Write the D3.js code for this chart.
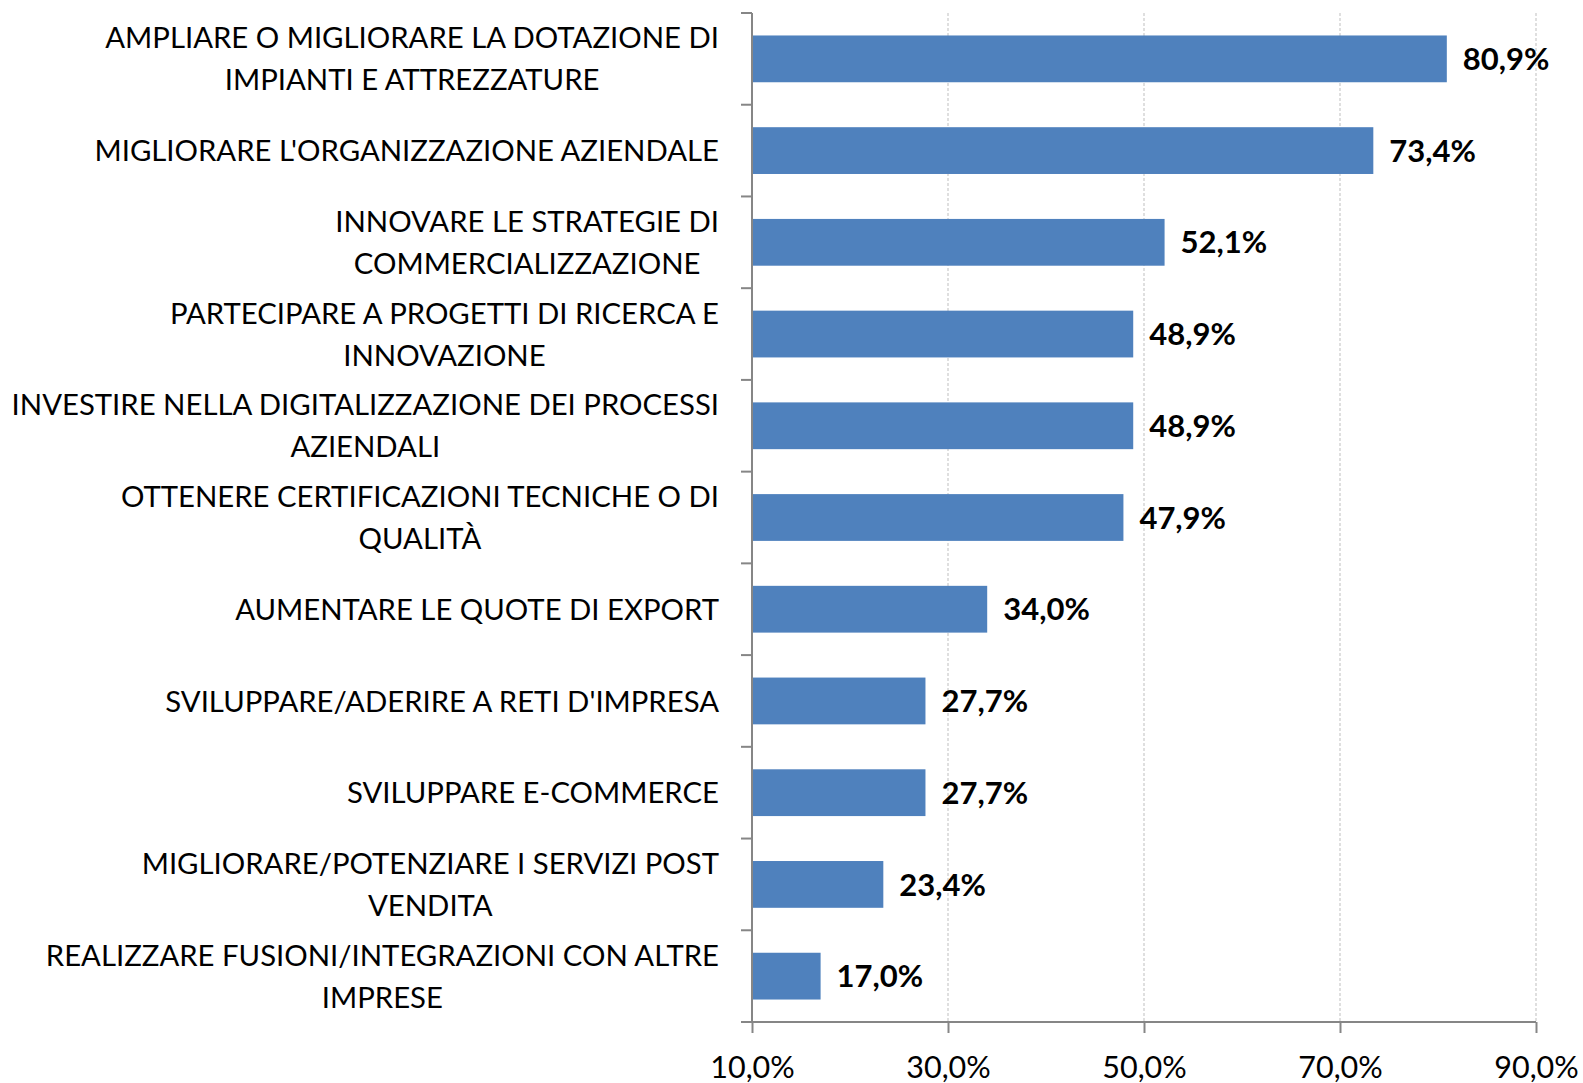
<!DOCTYPE html>
<html>
<head>
<meta charset="utf-8">
<script src="https://cdn.jsdelivr.net/npm/d3@7"></script>
<style>
  html, body { margin: 0; padding: 0; background: #fff; }
  svg { display: block; }
</style>
</head>
<body>
<svg id="chart" width="1583" height="1083"></svg>
<script>
// category labels, split into the lines they wrap onto
const categories = [
  ['AMPLIARE O MIGLIORARE LA DOTAZIONE DI', 'IMPIANTI E ATTREZZATURE'],
  ["MIGLIORARE L'ORGANIZZAZIONE AZIENDALE"],
  ['INNOVARE LE STRATEGIE DI', 'COMMERCIALIZZAZIONE'],
  ['PARTECIPARE A PROGETTI DI RICERCA E', 'INNOVAZIONE'],
  ['INVESTIRE NELLA DIGITALIZZAZIONE DEI PROCESSI', 'AZIENDALI'],
  ['OTTENERE CERTIFICAZIONI TECNICHE O DI', 'QUALITÀ'],
  ['AUMENTARE LE QUOTE DI EXPORT'],
  ["SVILUPPARE/ADERIRE A RETI D'IMPRESA"],
  ['SVILUPPARE E-COMMERCE'],
  ['MIGLIORARE/POTENZIARE I SERVIZI POST', 'VENDITA'],
  ['REALIZZARE FUSIONI/INTEGRAZIONI CON ALTRE', 'IMPRESE']
];
const values = [80.9, 73.4, 52.1, 48.9, 48.9, 47.9, 34.0, 27.7, 27.7, 23.4, 17.0];
const xTicks = [10, 30, 50, 70, 90];

const CFG = {
  left   : 752,
  right  : 1536,
  top    : 13,
  bottom : 1022,
  barCol : '#4F81BD',
  axisCol: '#868686',
  gridCol: '#BFBFBF',
  font   : 'Lato, "Open Sans", sans-serif',
  labelSize: 29.3,
  tickSize : 30.5,
  valSize  : 31
};

const svg = d3.select('#chart');
const fmt = v => d3.format('.1f')(v).replace('.', ',') + '%';

const x = d3.scaleLinear().domain([10, 90]).range([CFG.left, CFG.right]);
const y = d3.scaleBand().domain(d3.range(values.length))
  .range([CFG.top, CFG.bottom]).paddingInner(0.49).paddingOuter(0.245);
const step = y.step();

// ---- gridlines (dashed) ----
svg.append('g').selectAll('line')
  .data(xTicks.slice(1))
  .join('line')
    .attr('x1', d => x(d)).attr('x2', d => x(d))
    .attr('y1', CFG.top).attr('y2', CFG.bottom)
    .attr('stroke', CFG.gridCol).attr('stroke-width', 1)
    .attr('stroke-dasharray', '3,2');

// ---- bars ----
svg.append('g').selectAll('rect')
  .data(values)
  .join('rect')
    .attr('x', x(10))
    .attr('y', (d, i) => y(i))
    .attr('width', d => x(d) - x(10))
    .attr('height', y.bandwidth())
    .attr('fill', CFG.barCol);

// ---- value labels ----
svg.append('g').selectAll('text')
  .data(values)
  .join('text')
    .attr('x', d => x(d) + 16)
    .attr('y', (d, i) => y(i) + y.bandwidth() / 2)
    .attr('dy', '0.36em')
    .attr('font-family', CFG.font)
    .attr('font-weight', 700)
    .attr('font-size', CFG.valSize)
    .attr('fill', '#000')
    .text(fmt);

// ---- x axis ----
const xAxis = svg.append('g')
  .attr('transform', `translate(0,${CFG.bottom})`)
  .call(d3.axisBottom(x).tickValues(xTicks).tickSize(11).tickPadding(23)
        .tickFormat(fmt));
xAxis.select('.domain').remove();
xAxis.selectAll('.tick line').attr('stroke', CFG.axisCol).attr('stroke-width', 2);
xAxis.selectAll('.tick text')
  .attr('font-family', CFG.font).attr('font-size', CFG.tickSize).attr('fill', '#000');
svg.append('line')
  .attr('x1', CFG.left - 11).attr('x2', CFG.right)
  .attr('y1', CFG.bottom).attr('y2', CFG.bottom)
  .attr('stroke', CFG.axisCol).attr('stroke-width', 2);

// ---- y axis: line + boundary ticks ----
svg.append('line')
  .attr('x1', CFG.left).attr('x2', CFG.left)
  .attr('y1', CFG.top).attr('y2', CFG.bottom)
  .attr('stroke', CFG.axisCol).attr('stroke-width', 2);
svg.append('g').selectAll('line')
  .data(d3.range(values.length + 1))
  .join('line')
    .attr('x1', CFG.left - 11).attr('x2', CFG.left)
    .attr('y1', i => CFG.top + i * step).attr('y2', i => CFG.top + i * step)
    .attr('stroke', CFG.axisCol).attr('stroke-width', 2);

// ---- category labels: block right-aligned, lines centred in block ----
const labelRight = 719;
const lineGap = 42;
const cat = svg.append('g').selectAll('g')
  .data(categories)
  .join('g');
cat.each(function (lines, i) {
  const g = d3.select(this);
  const cy = y(i) + y.bandwidth() / 2;
  const texts = lines.map((ln, k) => g.append('text')
    .attr('y', cy + (k - (lines.length - 1) / 2) * lineGap)
    .attr('dy', '0.36em')
    .attr('text-anchor', 'middle')
    .attr('font-family', CFG.font)
    .attr('font-size', CFG.labelSize)
    .attr('fill', '#000')
    .text(ln));
  const w = d3.max(texts, t => t.node().getComputedTextLength());
  texts.forEach(t => t.attr('x', labelRight - w / 2));
});
</script>
</body>
</html>
